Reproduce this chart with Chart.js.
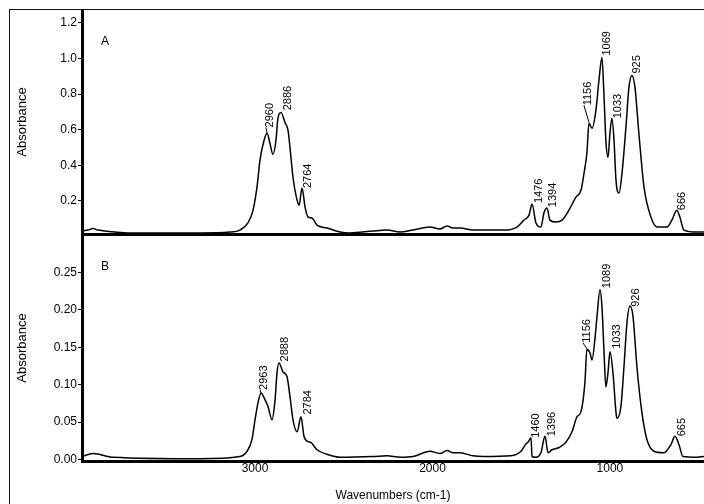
<!DOCTYPE html>
<html>
<head>
<meta charset="utf-8">
<script src="https://cdn.jsdelivr.net/npm/chart.js@4.4.0/dist/chart.umd.min.js"></script>
<style>
  html, body { margin: 0; padding: 0; background: #fff; overflow: hidden; }
  #page { position: relative; width: 704px; height: 504px; overflow: hidden; }
  #frame { position: absolute; left: 9px; top: 9px; width: 740px; height: 540px; border: 1px solid #111; }
  #chartA { position: absolute; left: 0; top: 0; }
  #chartB { position: absolute; left: 0; top: 234px; }
</style>
</head>
<body>
<div id="page">
  <div id="frame"></div>
  <canvas id="chartA" width="704" height="236"></canvas>
  <canvas id="chartB" width="704" height="270"></canvas>
</div>
<script>
// x range (wavenumbers, reversed) and tick labels
var xMin = 470, xMax = 3975;
var xTicks = [1000, 2000, 3000];

// spectrum A
var waveA = [3975,3941,3913,3885,3845,3789,3704,3592,3310,3141,3085,3040,3011,2989,2972,2949,2932,2916,2899,2882,
  2871,2854,2831,2814,2803,2786,2763,2752,2735,2718,2701,2679,2651,2594,2521,2465,2335,2256,2183,2110,
  2014,1958,1918,1885,1845,1772,1710,1597,1524,1485,1456,1439,1417,1389,1372,1355,1338,1304,1270,1231,
  1192,1163,1146,1130,1118,1101,1079,1062,1045,1034,1023,1011,1000,989,977,966,949,932,910,893,
  876,859,837,808,769,735,679,651,623,606,583,510,470];
var absA = [0.031,0.036,0.045,0.036,0.031,0.025,0.020,0.020,0.020,0.025,0.036,0.076,0.148,0.277,0.429,0.541,0.580,0.524,0.462,0.541,
  0.664,0.697,0.641,0.597,0.501,0.333,0.204,0.176,0.272,0.165,0.109,0.104,0.064,0.048,0.025,0.020,0.031,0.036,0.025,0.036,
  0.053,0.042,0.059,0.048,0.048,0.036,0.036,0.036,0.053,0.092,0.120,0.182,0.076,0.053,0.132,0.160,0.092,0.081,0.092,0.148,
  0.221,0.261,0.356,0.468,0.636,0.608,0.709,0.877,1.006,0.804,0.541,0.445,0.580,0.664,0.541,0.317,0.244,0.356,0.613,0.838,
  0.905,0.838,0.580,0.277,0.109,0.053,0.053,0.092,0.148,0.109,0.036,0.025,0.025];
var yTicksA = [0.2, 0.4, 0.6, 0.8, 1.0, 1.2];

// spectrum B
var waveB = [3975,3913,3800,3310,3085,3045,3017,3000,2983,2966,2944,2927,2904,2887,2876,2865,2842,2820,2803,2786,
  2763,2741,2724,2701,2685,2651,2594,2521,2335,2256,2183,2110,2014,1958,1918,1885,1845,1772,1710,1558,
  1501,1473,1462,1445,1439,1417,1389,1366,1349,1327,1287,1248,1214,1186,1163,1141,1130,1113,1101,1085,
  1073,1056,1045,1034,1023,1011,1000,983,966,961,938,921,904,887,870,848,820,792,752,696,
  656,634,611,589,510,470];
var absB = [0.004,0.008,0.003,0.001,0.004,0.011,0.027,0.053,0.076,0.089,0.080,0.071,0.053,0.080,0.116,0.129,0.117,0.111,0.084,0.053,
  0.037,0.057,0.031,0.024,0.023,0.013,0.007,0.003,0.004,0.005,0.003,0.004,0.011,0.008,0.012,0.009,0.009,0.005,0.004,0.005,
  0.011,0.021,0.023,0.029,0.004,0.003,0.009,0.031,0.009,0.013,0.016,0.023,0.037,0.057,0.064,0.103,0.147,0.143,0.133,0.160,
  0.191,0.227,0.204,0.147,0.097,0.116,0.144,0.116,0.063,0.055,0.071,0.124,0.183,0.205,0.191,0.124,0.063,0.027,0.011,0.009,
  0.020,0.031,0.020,0.004,0.003,0.004];
var yTicksB = [0, 0.05, 0.10, 0.15, 0.20, 0.25];

// peak labels: text, where the label starts (wavenumber, absorbance), optional leader tip
var peakTextA = ['2960','2886','2764','1476','1394','1156','1069','1033','925','666'];
var peakWaveA = [2916, 2814, 2701, 1400, 1321, 1124, 1017, 955, 848, 594];
var peakAbsA  = [0.613, 0.709, 0.272, 0.188, 0.165, 0.737, 1.017, 0.664, 0.916, 0.148];
var tipWaveA  = [2932, null, null, null, null, 1118, null, null, null, null];
var tipAbsA   = [0.580, null, null, null, null, 0.641, null, null, null, null];

var peakTextB = ['2963','2888','2784','1460','1396','1156','1089','1033','926','665'];
var peakWaveB = [2949, 2831, 2701, 1417, 1327, 1130, 1017, 961, 854, 594];
var peakAbsB  = [0.093, 0.131, 0.060, 0.029, 0.031, 0.156, 0.229, 0.148, 0.204, 0.031];
var tipWaveB  = [2966, null, null, null, null, 1118, null, null, null, null];
var tipAbsB   = [0.089, null, null, null, null, 0.144, null, null, null, null];

var FONT = '"Liberation Sans", Arial, Helvetica, sans-serif';
Chart.defaults.font.family = FONT;
Chart.defaults.color = '#000';

var peakPlugin = {
  id: 'peaks',
  afterDatasetsDraw: function(chart, args, opts) {
    var ctx = chart.ctx, area = chart.chartArea;
    var xs = chart.scales.x, ys = chart.scales.y;
    ctx.save();
    ctx.fillStyle = '#000';
    ctx.strokeStyle = '#000';
    ctx.lineWidth = 1;
    ctx.font = '12px ' + FONT;
    ctx.textAlign = 'center';
    ctx.textBaseline = 'middle';
    ctx.fillText(opts.letter, area.left + 23, area.top + 32);

    ctx.font = '11px ' + FONT;
    ctx.textAlign = 'left';
    for (var i = 0; i < opts.texts.length; i++) {
      var px = xs.getPixelForValue(opts.waves[i]);
      var py = ys.getPixelForValue(opts.heights[i]);
      if (opts.tipWaves[i] != null) {
        ctx.beginPath();
        ctx.moveTo(xs.getPixelForValue(opts.tipWaves[i]), ys.getPixelForValue(opts.tipHeights[i]));
        ctx.lineTo(px - 4, py);
        ctx.stroke();
      }
      ctx.save();
      ctx.translate(px, py);
      ctx.rotate(-Math.PI / 2);
      ctx.fillText(opts.texts[i], 0, 0);
      ctx.restore();
    }
    ctx.restore();
  }
};

function makePanel(id, waves, abs, yMin, yMax, yTicks, decimals, showX, letter, peaks) {
  var points = waves.map(function(w, i) { return {x: w, y: abs[i]}; });
  return new Chart(document.getElementById(id).getContext('2d'), {
    type: 'line',
    data: {
      datasets: [{
        data: points,
        borderColor: '#000',
        borderWidth: 1.5,
        pointRadius: 0,
        fill: false,
        cubicInterpolationMode: 'monotone'
      }]
    },
    options: {
      responsive: false,
      animation: false,
      devicePixelRatio: 1,
      layout: { padding: { top: showX ? 1 : 10, left: 0, right: 0, bottom: 0 } },
      plugins: {
        legend: { display: false },
        tooltip: { enabled: false },
        peaks: {
          letter: letter,
          texts: peaks[0], waves: peaks[1], heights: peaks[2],
          tipWaves: peaks[3], tipHeights: peaks[4]
        }
      },
      scales: {
        x: {
          type: 'linear',
          reverse: true,
          min: xMin,
          max: xMax,
          afterBuildTicks: function(a) { a.ticks = xTicks.map(function(v) { return {value: v}; }); },
          afterFit: function(s) {
            s.height = showX ? 43 : 2;
            s.paddingLeft = 0; s.paddingRight = 0;
          },
          grid: { display: true, drawOnChartArea: false, drawTicks: false },
          border: { display: true, width: 3, color: '#000' },
          ticks: {
            display: showX,
            maxRotation: 0,
            padding: 0,
            font: { size: 12 },
            callback: function(v) { return String(v); }
          },
          title: {
            display: showX,
            text: 'Wavenumbers (cm-1)',
            font: { size: 12 },
            padding: { top: 0, bottom: 1 }
          }
        },
        y: {
          min: yMin,
          max: yMax,
          afterBuildTicks: function(a) { a.ticks = yTicks.map(function(v) { return {value: v}; }); },
          afterFit: function(s) {
            s.width = 82;
            s.paddingTop = 0; s.paddingBottom = 0;
          },
          grid: { display: true, drawOnChartArea: false, drawTicks: true, tickLength: 4, tickColor: '#000' },
          border: { display: true, width: 3, color: '#000' },
          ticks: {
            padding: 1,
            font: { size: 12 },
            callback: function(v) { return Number(v).toFixed(decimals); }
          },
          title: {
            display: true,
            text: 'Absorbance',
            font: { size: 13 },
            padding: { top: 15, bottom: 0 }
          }
        }
      }
    },
    plugins: [peakPlugin]
  });
}

makePanel('chartA', waveA, absA, 0.014, 1.273, yTicksA, 1, false, 'A',
  [peakTextA, peakWaveA, peakAbsA, tipWaveA, tipAbsA]);
makePanel('chartB', waveB, absB, -0.002, 0.300, yTicksB, 2, true, 'B',
  [peakTextB, peakWaveB, peakAbsB, tipWaveB, tipAbsB]);
</script>
</body>
</html>
